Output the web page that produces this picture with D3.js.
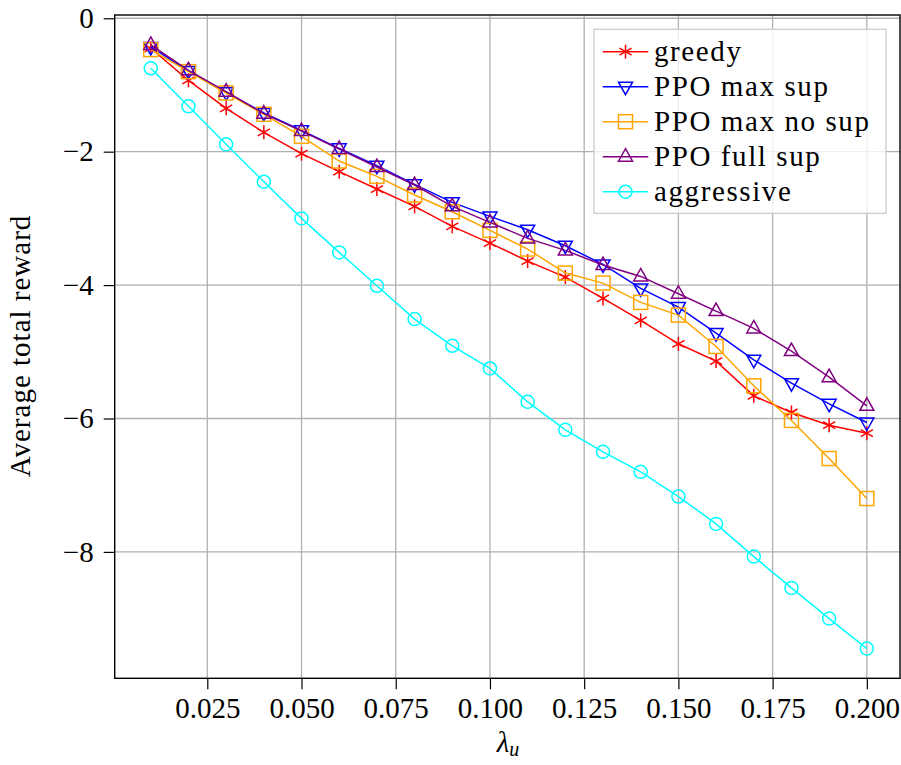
<!DOCTYPE html>
<html>
<head>
<meta charset="utf-8">
<script src="https://cdn.jsdelivr.net/npm/d3@7"></script>
<style>
  body { margin: 0; background: #fff; }
  svg text { font-family: "Liberation Serif", "Times New Roman", serif !important; }
</style>
</head>
<body>
<div id="chart"></div>
<script>
// datos
var lambdas = [0.01,0.02,0.03,0.04,0.05,0.06,0.07,0.08,0.09,0.10,0.11,0.12,0.13,0.14,0.15,0.16,0.17,0.18,0.19,0.20];
var greedy      = [-0.45,-0.93,-1.35,-1.71,-2.03,-2.30,-2.56,-2.82,-3.12,-3.37,-3.64,-3.88,-4.20,-4.53,-4.88,-5.14,-5.66,-5.91,-6.10,-6.22];
var ppoMaxSup   = [-0.43,-0.79,-1.11,-1.42,-1.68,-1.95,-2.21,-2.49,-2.76,-2.97,-3.17,-3.41,-3.69,-4.05,-4.33,-4.72,-5.12,-5.47,-5.78,-6.06];
var ppoMaxNoSup = [-0.47,-0.80,-1.12,-1.44,-1.77,-2.14,-2.37,-2.65,-2.90,-3.18,-3.46,-3.82,-3.97,-4.26,-4.45,-4.92,-5.51,-6.03,-6.60,-7.20];
var ppoFullSup  = [-0.40,-0.78,-1.10,-1.43,-1.69,-1.96,-2.23,-2.50,-2.82,-3.06,-3.30,-3.48,-3.70,-3.87,-4.13,-4.39,-4.65,-4.99,-5.38,-5.81];
var aggressive  = [-0.75,-1.32,-1.89,-2.45,-3.00,-3.51,-4.01,-4.51,-4.91,-5.25,-5.75,-6.17,-6.50,-6.80,-7.17,-7.58,-8.07,-8.54,-9.00,-9.45];

var seriesNames = ["greedy","PPO max sup","PPO max no sup","PPO full sup","aggressive"];
var seriesVals  = [greedy, ppoMaxSup, ppoMaxNoSup, ppoFullSup, aggressive];
var colors      = ["#ff0000","#0000ff","#ffa500","#800080","#00ffff"];
var marks       = ["asterisk","triangleDown","square","triangleUp","circle"];

var xTicks = [0.025,0.05,0.075,0.1,0.125,0.15,0.175,0.2];
var yTicks = [0,-2,-4,-6,-8];

var width = 901, height = 765;
var margin = {top: 15, right: 1, bottom: 86.7, left: 114.7};
var serif = "'Liberation Serif', 'Times New Roman', serif";

var eX = d3.scaleLinear().domain([0.00043, 0.2088]).range([margin.left, width-margin.right]);
var eY = d3.scaleLinear().domain([-9.895, 0.049]).range([height-margin.bottom, margin.top]);

var svg = d3.select("#chart").append("svg")
    .attr("width", width).attr("height", height);

// rejilla
var gridColor = "#b0b0b0";
svg.append("g").selectAll("line").data(xTicks).enter().append("line")
    .attr("x1", function(d){ return eX(d); }).attr("x2", function(d){ return eX(d); })
    .attr("y1", eY.range()[0]).attr("y2", eY.range()[1])
    .attr("stroke", gridColor).attr("stroke-width", 1.3);
svg.append("g").selectAll("line").data(yTicks).enter().append("line")
    .attr("y1", function(d){ return eY(d); }).attr("y2", function(d){ return eY(d); })
    .attr("x1", eX.range()[0]).attr("x2", eX.range()[1])
    .attr("stroke", gridColor).attr("stroke-width", 1.3);

// ejes
var fmtMinus = function(d){ return d < 0 ? "\u2212" + Math.abs(d) : String(d); };
var xAxis = d3.axisBottom(eX).tickValues(xTicks).tickFormat(d3.format(".3f")).tickSize(11).tickPadding(8);
var yAxis = d3.axisLeft(eY).tickValues(yTicks).tickFormat(fmtMinus).tickSize(11).tickPadding(10);

var gx = svg.append("g").attr("transform", "translate(0," + eY.range()[0] + ")").call(xAxis);
var gy = svg.append("g").attr("transform", "translate(" + eX.range()[0] + ",0)").call(yAxis);
gx.select(".domain").remove();
gy.select(".domain").remove();
[gx, gy].forEach(function(g){
  g.attr("font-family", null).attr("font-size", null);
  g.selectAll("line").attr("stroke", "#000").attr("stroke-width", 1.2);
  g.selectAll("text").style("font-family", serif).style("font-size", "29px").attr("fill", "#000");
});

// marco
svg.append("rect")
    .attr("x", eX.range()[0]).attr("y", eY.range()[1])
    .attr("width", eX.range()[1]-eX.range()[0]).attr("height", eY.range()[0]-eY.range()[1])
    .attr("fill", "none").attr("stroke", "#000").attr("stroke-width", 1.4);

// marcadores
function drawMark(g, type, color) {
  if (type == "asterisk") {
    var r = 7;
    [90, 30, -30].forEach(function(a){
      var rad = a*Math.PI/180;
      g.append("line").attr("x1", -r*Math.cos(rad)).attr("y1", -r*Math.sin(rad))
        .attr("x2", r*Math.cos(rad)).attr("y2", r*Math.sin(rad))
        .attr("stroke", color).attr("stroke-width", 1.5);
    });
  } else if (type == "circle") {
    g.append("circle").attr("r", 6.5).attr("fill", "none").attr("stroke", color).attr("stroke-width", 1.5);
  } else if (type == "square") {
    g.append("rect").attr("x", -7).attr("y", -7).attr("width", 14).attr("height", 14)
      .attr("fill", "none").attr("stroke", color).attr("stroke-width", 1.5);
  } else {
    var s = type == "triangleUp" ? 1 : -1;
    var pts = [[0, -8*s], [7, 4.5*s], [-7, 4.5*s]];
    g.append("polygon").attr("points", pts.map(function(p){ return p.join(","); }).join(" "))
      .attr("fill", "none").attr("stroke", color).attr("stroke-width", 1.5);
  }
}

// series
var line = d3.line().x(function(d){ return eX(d[0]); }).y(function(d){ return eY(d[1]); });
seriesVals.forEach(function(vals, k){
  var pts = lambdas.map(function(x, i){ return [x, vals[i]]; });
  svg.append("path").datum(pts).attr("d", line)
    .attr("fill", "none").attr("stroke", colors[k]).attr("stroke-width", 1.5);
  svg.append("g").selectAll("g").data(pts).enter().append("g")
    .attr("transform", function(d){ return "translate(" + eX(d[0]) + "," + eY(d[1]) + ")"; })
    .each(function(){ drawMark(d3.select(this), marks[k], colors[k]); });
});

// leyenda
var legend = svg.append("g").attr("transform", "translate(594,29.3)");
legend.append("rect").attr("width", 292).attr("height", 184)
    .attr("fill", "#fff").attr("fill-opacity", 0.8)
    .attr("stroke", "#cccccc").attr("stroke-width", 1.3);
seriesNames.forEach(function(name, k){
  var y = 22.4 + k*35;
  var row = legend.append("g").attr("transform", "translate(0," + y + ")");
  row.append("line").attr("x1", 8.7).attr("x2", 54.3).attr("y1", 0).attr("y2", 0)
    .attr("stroke", colors[k]).attr("stroke-width", 1.5);
  var m = row.append("g").attr("transform", "translate(31.5,0)");
  drawMark(m, marks[k], colors[k]);
  row.append("text").attr("x", 60).attr("y", 9.5)
    .style("font-family", serif).style("font-size", "29px").style("letter-spacing", "1.6px")
    .attr("fill", "#000").text(name);
});

// etiquetas de los ejes
var xl = svg.append("text").attr("x", 508).attr("y", 752).attr("text-anchor", "middle")
    .style("font-family", serif).style("font-size", "29px").attr("fill", "#000");
xl.append("tspan").attr("font-style", "italic").text("\u03bb");
xl.append("tspan").attr("font-style", "italic").style("font-size", "20px").attr("dy", 4).text("u");

svg.append("text").attr("transform", "translate(30,346) rotate(-90)")
    .attr("text-anchor", "middle")
    .style("font-family", serif).style("font-size", "29px").style("letter-spacing", "1px")
    .attr("fill", "#000")
    .text("Average total reward");
</script>
</body>
</html>
